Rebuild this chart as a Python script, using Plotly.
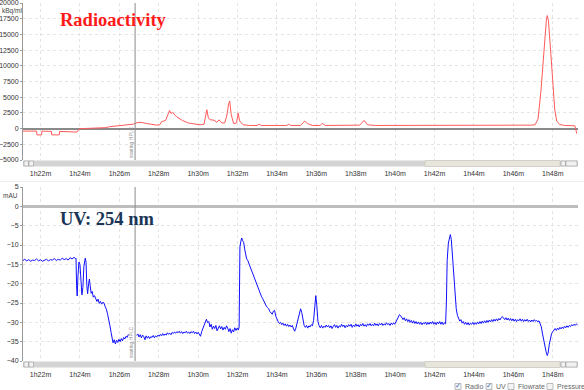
import plotly.graph_objects as go

W, H = 584, 390

# ---------------- data ----------------
tick_minutes = [82, 84, 86, 88, 90, 92, 94, 96, 98, 100, 102, 104, 106, 108]
tick_labels = ["1h22m", "1h24m", "1h26m", "1h28m", "1h30m", "1h32m", "1h34m",
               "1h36m", "1h38m", "1h40m", "1h42m", "1h44m", "1h46m", "1h48m"]
radio_ticks = [20000, 17500, 15000, 12500, 10000, 7500, 5000, 2500, 0, -2500, -5000]
uv_ticks = [5, 0, -5, -10, -15, -20, -25, -30, -35, -40]
hplc_start = 86.8

radio_t = [81.11, 81.80, 81.82, 82.05, 82.07, 82.55, 82.57, 82.95, 82.97, 83.50, 83.85, 83.95,
           84.10, 84.50, 85.00, 85.30, 85.50, 86.00, 86.40, 86.70, 86.90, 87.10, 87.40, 87.90,
           88.05, 88.15, 88.35, 88.50, 88.55, 88.62, 88.70, 88.90, 89.20, 89.50, 89.80, 90.10,
           90.30, 90.38, 90.44, 90.52, 90.60, 90.80, 90.95, 91.06, 91.20, 91.35, 91.45, 91.55,
           91.60, 91.68, 91.80, 91.95, 92.03, 92.10, 92.15, 92.30, 92.60, 93.00, 93.10, 93.20,
           94.00, 94.50, 94.60, 94.70, 95.20, 95.40, 95.55, 95.80, 96.20, 96.30, 96.45, 97.50,
           98.20, 98.42, 98.60, 99.00, 102.0, 105.0, 106.90, 107.10, 107.25, 107.40, 107.55,
           107.68, 107.72, 107.78, 107.90, 108.00, 108.10, 108.20, 108.35, 108.60, 109.00,
           109.12, 109.22]
radio_v = [-400, -400, -1000, -1000, -400, -450, -1000, -1000, -450, -500, -550, -100,
           0, 50, 100, 150, 300, 450, 500, 700, 950, 1000, 800, 550,
           600, 1100, 1300, 2300, 2900, 2400, 2600, 1900, 1300, 900, 700, 600,
           700, 2000, 3000, 1700, 1400, 1350, 1000, 1400, 900, 900, 2000, 4000,
           4400, 2200, 800, 900, 2500, 1300, 1000, 600, 500, 500, 700, 500,
           500, 500, 700, 500, 500, 1200, 800, 500, 500, 850, 500, 500,
           550, 1300, 600, 500, 480, 500, 550, 600, 1500, 6000, 13000,
           17500, 18000, 17200, 12000, 7000, 3000, 1200, 650, 500, 450,
           450, -800]

uv_t = [81.11, 81.2, 81.3, 81.4, 81.5, 81.6, 81.7, 81.8, 81.9, 82.0, 82.1, 82.2, 82.3, 82.4,
        82.5, 82.6, 82.7, 82.8, 82.9, 83.0, 83.1, 83.2, 83.3, 83.4, 83.5, 83.6, 83.7, 83.78,
        83.80, 83.83, 83.86, 83.90, 83.95, 84.00, 84.05, 84.10, 84.15, 84.20, 84.27, 84.31,
        84.35, 84.39, 84.44, 84.48, 84.52, 84.57, 84.62, 84.68, 84.74, 84.80, 84.86, 84.92,
        84.98, 85.04, 85.10, 85.16, 85.22, 85.28, 85.34, 85.40, 85.46, 85.52, 85.58, 85.63,
        85.68, 85.74, 85.80, 85.86, 85.92, 85.98, 86.04, 86.10, 86.16, 86.22, 86.28, 86.34,
        86.40, 86.46, 86.48, 86.88, 86.94, 87.00, 87.06, 87.12, 87.18, 87.24, 87.30, 87.36,
        87.42, 87.48, 87.54, 87.60, 87.66, 87.72, 87.78, 87.84, 87.90, 87.96, 88.02, 88.08,
        88.14, 88.20, 88.26, 88.32, 88.38, 88.44, 88.50, 88.56, 88.62, 88.68, 88.74, 88.80,
        88.86, 88.92, 88.98, 89.04, 89.10, 89.16, 89.22, 89.28, 89.34, 89.40, 89.46, 89.52,
        89.58, 89.64, 89.70, 89.76, 89.82, 89.88, 89.94, 90.00, 90.06, 90.12, 90.18, 90.24,
        90.30, 90.36, 90.42, 90.48, 90.54, 90.60, 90.66, 90.72, 90.78, 90.84, 90.90, 90.96,
        91.02, 91.08, 91.14, 91.20, 91.26, 91.32, 91.38, 91.44, 91.50, 91.56, 91.62, 91.68,
        91.74, 91.80, 91.86, 91.92, 91.98, 92.04, 92.08, 92.10, 92.12, 92.17, 92.21, 92.26,
        92.31, 92.36, 92.41, 92.46, 92.51, 92.56, 92.62, 92.68, 92.74, 92.80, 92.86, 92.92,
        92.98, 93.04, 93.10, 93.16, 93.22, 93.28, 93.34, 93.40, 93.46, 93.52, 93.58, 93.64,
        93.70, 93.76, 93.82, 93.88, 93.94, 94.00, 94.06, 94.12, 94.18, 94.24, 94.30, 94.36,
        94.42, 94.48, 94.54, 94.60, 94.66, 94.72, 94.78, 94.84, 94.90, 94.96, 95.02, 95.08,
        95.14, 95.20, 95.26, 95.32, 95.38, 95.44, 95.50, 95.56, 95.62, 95.68, 95.74, 95.80,
        95.86, 95.92, 95.97, 96.02, 96.08, 96.14, 96.20, 96.26, 96.32, 96.38, 96.44, 96.50,
        96.56, 96.62, 96.68, 96.74, 96.80, 96.86, 96.92, 96.98, 97.04, 97.10, 97.16, 97.22,
        97.28, 97.34, 97.40, 97.46, 97.52, 97.58, 97.64, 97.70, 97.76, 97.82, 97.88, 97.94,
        98.00, 98.06, 98.12, 98.18, 98.24, 98.30, 98.36, 98.42, 98.48, 98.54, 98.60, 98.66,
        98.72, 98.78, 98.84, 98.90, 98.96, 99.02, 99.08, 99.14, 99.20, 99.26, 99.32, 99.38,
        99.44, 99.50, 99.56, 99.62, 99.68, 99.74, 99.80, 99.86, 99.92, 99.98, 100.04, 100.10,
        100.16, 100.22, 100.28, 100.34, 100.40, 100.46, 100.52, 100.58, 100.64, 100.70, 100.76,
        100.82, 100.88, 100.94, 101.00, 101.06, 101.12, 101.18, 101.24, 101.30, 101.36, 101.42,
        101.48, 101.54, 101.60, 101.66, 101.72, 101.78, 101.84, 101.90, 101.96, 102.02, 102.08,
        102.14, 102.20, 102.26, 102.32, 102.38, 102.44, 102.50, 102.56, 102.60, 102.64, 102.70,
        102.76, 102.80, 102.85, 102.90, 102.95, 103.00, 103.05, 103.10, 103.16, 103.22, 103.28,
        103.34, 103.40, 103.46, 103.52, 103.58, 103.64, 103.70, 103.76, 103.82, 103.88, 103.94,
        104.00, 104.06, 104.12, 104.18, 104.24, 104.30, 104.36, 104.42, 104.48, 104.54, 104.60,
        104.66, 104.72, 104.78, 104.84, 104.90, 104.96, 105.02, 105.08, 105.14, 105.20, 105.26,
        105.32, 105.38, 105.44, 105.50, 105.56, 105.62, 105.68, 105.74, 105.80, 105.86, 105.92,
        105.98, 106.04, 106.10, 106.16, 106.22, 106.28, 106.34, 106.40, 106.46, 106.52, 106.58,
        106.64, 106.70, 106.76, 106.82, 106.88, 106.94, 107.00, 107.06, 107.12, 107.18, 107.24,
        107.30, 107.36, 107.42, 107.48, 107.54, 107.60, 107.66, 107.72, 107.76, 107.82, 107.88,
        107.94, 108.00, 108.06, 108.12, 108.18, 108.24, 108.30, 108.36, 108.42, 108.48, 108.54,
        108.60, 108.66, 108.72, 108.78, 108.84, 108.90, 108.96, 109.02, 109.08, 109.14, 109.20,
        109.26]
uv_v = [-14.0, -13.7, -14.1, -13.8, -14.2, -13.9, -14.0, -13.6, -14.1, -13.8, -14.2, -13.9, -13.7, -14.1,
        -13.8, -13.9, -13.5, -14.0, -13.7, -13.9, -13.4, -13.8, -13.5, -13.9, -13.3, -13.6, -13.2, -13.5,
        -13.4, -20.5, -23.2, -18.0, -14.4, -15.0, -19.5, -22.9, -21.0, -15.5, -13.4, -14.5,
        -20.5, -22.6, -20.0, -18.8, -20.5, -22.5, -22.0, -23.5, -23.1, -24.2, -24.6, -24.0,
        -25.1, -24.6, -25.3, -24.8, -25.0, -25.9, -26.6, -27.8, -29.0, -30.8, -32.6, -34.0,
        -35.3, -34.5, -35.6, -34.6, -35.2, -34.4, -35.0, -34.2, -34.8, -33.9, -34.3, -33.6,
        -33.9, -33.1, None, -33.4, -33.0, -33.8, -33.2, -34.0, -33.3, -33.7, -34.5, -33.5,
        -34.1, -33.6, -34.2, -33.7, -33.9, -33.4, -34.0, -33.5, -33.8, -33.3, -33.6, -33.1,
        -33.5, -32.9, -33.4, -33.0, -33.3, -32.7, -33.1, -32.8, -33.2, -32.6, -32.9, -32.5,
        -32.8, -32.4, -32.7, -32.3, -32.8, -32.4, -32.9, -32.5, -32.7, -32.3, -32.8, -32.5,
        -32.9, -32.4, -32.7, -32.3, -32.9, -32.5, -33.0, -32.6, -33.1, -33.6, -32.4, -31.5,
        -30.6, -29.6, -29.2, -30.1, -29.8, -31.2, -30.5, -31.8, -31.0, -31.6, -30.8, -32.2,
        -31.4, -30.9, -31.7, -31.1, -32.0, -31.3, -31.8, -30.9, -31.5, -32.4, -31.6, -32.8,
        -31.9, -32.5, -31.4, -32.1, -31.5, -32.0, -31.2, -21.0, -10.5, -9.0, -8.2, -8.9,
        -9.3, -11.0, -12.8, -13.6, -13.9, -14.6, -15.4, -16.0, -17.2, -17.8, -18.9, -19.7,
        -20.6, -21.3, -22.0, -22.8, -23.4, -23.9, -24.6, -25.0, -25.8, -26.2, -26.5, -27.2,
        -27.5, -27.9, -27.1, -26.9, -28.4, -29.3, -29.8, -30.3, -30.0, -30.6, -30.2, -30.8,
        -30.4, -31.0, -30.5, -31.1, -30.7, -31.2, -30.8, -31.7, -32.3, -31.5, -30.2, -28.5,
        -27.1, -26.5, -27.5, -29.6, -30.8, -31.3, -30.8, -31.5, -30.9, -31.2, -30.6, -30.9,
        -29.5, -26.0, -23.1, -25.5, -29.8, -30.9, -31.4, -30.8, -31.5, -31.0, -31.3, -30.7,
        -31.2, -30.8, -31.4, -30.9, -31.6, -31.0, -30.6, -31.3, -30.8, -31.5, -30.9, -31.2,
        -30.5, -31.1, -30.7, -31.4, -30.8, -31.2, -30.6, -31.0, -30.5, -31.3, -30.7, -31.1,
        -30.4, -31.0, -30.6, -31.2, -30.5, -30.9, -30.3, -31.0, -30.6, -31.1, -30.4, -30.8,
        -30.3, -30.9, -30.5, -30.9, -30.2, -30.8, -30.4, -30.9, -30.3, -30.7, -30.2, -30.8,
        -30.4, -30.7, -30.1, -30.6, -30.3, -30.8, -30.2, -30.6, -30.1, -30.5, -29.9, -29.4,
        -28.6, -28.0, -28.3, -28.9, -29.3, -28.8, -29.6, -29.1, -29.8, -29.3, -30.0,
        -29.5, -30.2, -29.6, -30.3, -29.8, -30.4, -29.9, -30.5, -30.0, -30.6, -30.1,
        -30.4, -29.9, -30.6, -30.0, -30.5, -29.9, -30.4, -29.8, -30.5, -30.0, -30.6,
        -29.9, -30.4, -29.8, -30.5, -29.9, -30.6, -30.1, -30.4, -25.0, -14.0, -9.5,
        -7.4, -7.3, -8.6, -12.0, -15.5, -19.5, -23.6, -26.5, -28.2, -28.8, -29.7,
        -29.3, -30.2, -29.8, -30.5, -30.0, -30.6, -30.1, -30.7, -30.2, -30.5, -30.0,
        -30.6, -30.1, -30.5, -29.9, -30.4, -29.8, -30.3, -29.7, -30.2, -29.6, -30.1,
        -29.5, -30.0, -29.4, -29.9, -29.3, -29.8, -29.2, -29.7, -29.1, -29.6, -29.0,
        -29.4, -28.8, -28.5, -28.9, -29.3, -28.8, -29.4, -28.9, -29.5, -29.0, -29.6,
        -29.1, -29.7, -29.2, -29.8, -29.3, -29.6, -29.1, -29.7, -29.2, -29.8, -29.3,
        -29.7, -29.2, -29.8, -29.4, -29.9, -29.4, -29.8, -29.3, -29.7, -29.5, -29.9,
        -29.6, -30.3, -31.2, -33.0, -34.8, -36.2, -37.6, -38.6, -38.0, -35.8, -34.0,
        -32.9, -32.4, -32.0, -31.6, -32.1, -31.5, -31.9, -31.3, -31.7, -31.2, -31.6,
        -31.0, -31.4, -30.9, -31.3, -30.8, -31.1, -30.6, -30.9, -30.5, -30.8, -30.4,
        -30.7]

legend_items = ["Radio", "UV", "Flowrate", "Pressure"]
legend_checked = [True, True, False, False]

# ---------------- helpers ----------------
def fx(p):
    return p / W

def fy(p):
    return 1 - p / H

X_RANGE = [81.11, 109.28]
TICK_FONT = dict(family="Liberation Sans, Arial, sans-serif", size=7, color="#333333")

fig = go.Figure()
fig.add_trace(go.Scatter(x=radio_t, y=radio_v, mode="lines",
                         line=dict(color="#ff5a5a", width=1), xaxis="x", yaxis="y",
                         hoverinfo="skip"))
fig.add_trace(go.Scatter(x=uv_t, y=uv_v, mode="lines", connectgaps=False,
                         line=dict(color="#1010ff", width=1), xaxis="x2", yaxis="y2",
                         hoverinfo="skip"))

xax = dict(range=X_RANGE, tickmode="array", tickvals=tick_minutes, ticktext=tick_labels,
           showgrid=True, gridcolor="#e4e4e4", griddash="dot", gridwidth=1,
           zeroline=False, showline=False, ticks="outside", ticklen=7,
           tickcolor="rgba(0,0,0,0)", tickfont=TICK_FONT, fixedrange=True, automargin=False)

yax = dict(tickmode="array", tickformat="d", showgrid=True, gridcolor="#e4e4e4",
           griddash="dot", showline=True, linecolor="#9a9a9a", linewidth=1,
           ticks="outside", ticklen=2, tickcolor="#9a9a9a", tickfont=TICK_FONT,
           fixedrange=True, automargin=False, zeroline=True, ticklabeloverflow="allow")

fig.update_layout(
    width=W, height=H, margin=dict(l=0, r=0, t=0, b=0, pad=0),
    paper_bgcolor="white", plot_bgcolor="white", showlegend=False,
    xaxis=dict(xax, domain=[fx(23), fx(578)], anchor="y"),
    yaxis=dict(yax, domain=[fy(160), fy(3)], range=[-5000, 20000], tickvals=radio_ticks,
               zerolinecolor="#8a8a8a", zerolinewidth=1.5, anchor="x"),
    xaxis2=dict(xax, domain=[fx(23), fx(578)], anchor="y2"),
    yaxis2=dict(yax, domain=[fy(361), fy(187)], range=[-40, 5], tickvals=uv_ticks,
                zerolinecolor="#bdbdbd", zerolinewidth=2.5, anchor="x2"),
)

shapes = []
# vertical "starting HPLC" markers
for xr, yr in (("x", "y domain"), ("x2", "y2 domain")):
    shapes.append(dict(type="line", xref=xr, yref=yr, x0=hplc_start, x1=hplc_start, y0=0, y1=1,
                       line=dict(color="#8c8c8c", width=1)))

# scrollbars
for top, bot in ((160.5, 166.5), (361.5, 367.5)):
    shapes.append(dict(type="rect", xref="paper", yref="paper", x0=fx(23), x1=fx(578),
                       y0=fy(bot), y1=fy(top), line=dict(width=0), fillcolor="#d4d4d4"))
    shapes.append(dict(type="rect", xref="paper", yref="paper", x0=fx(425), x1=fx(560),
                       y0=fy(bot), y1=fy(top), line=dict(color="#c4c2b8", width=0.6),
                       fillcolor="#e7e5dc"))
    for bx0, bx1 in ((24, 28.5), (29, 33.5), (561, 565.5), (566, 577)):
        shapes.append(dict(type="rect", xref="paper", yref="paper", x0=fx(bx0), x1=fx(bx1),
                           y0=fy(bot - 0.5), y1=fy(top + 0.5),
                           line=dict(color="#9a9a9a", width=0.6), fillcolor="#f2f2f2"))

# separator between panels
shapes.append(dict(type="line", xref="paper", yref="paper", x0=0, x1=1, y0=fy(181.5), y1=fy(181.5),
                   line=dict(color="#ececec", width=1)))

# legend check boxes
legend_x = [455, 486, 508, 547]
for lx, chk in zip(legend_x, legend_checked):
    shapes.append(dict(type="rect", xref="paper", yref="paper", x0=fx(lx), x1=fx(lx + 6),
                       y0=fy(389.5), y1=fy(383.5), line=dict(color="#a0a0a0", width=0.7),
                       fillcolor="#f4f4f4"))
fig.update_layout(shapes=shapes)

ann = []
ann.append(dict(text="<b>Radioactivity</b>", xref="paper", yref="paper", x=fx(58), y=fy(20),
                xanchor="left", yanchor="middle", showarrow=False,
                font=dict(family="Liberation Serif, serif", size=18.5, color="#ff1a1a")))
ann.append(dict(text="<b>UV: 254 nm</b>", xref="paper", yref="paper", x=fx(58), y=fy(219),
                xanchor="left", yanchor="middle", showarrow=False,
                font=dict(family="Liberation Serif, serif", size=18.5, color="#1c3557")))
ann.append(dict(text="kBq/ml", xref="paper", yref="paper", x=fx(0), y=fy(11),
                xanchor="left", yanchor="middle", showarrow=False,
                font=dict(family="Liberation Sans, Arial, sans-serif", size=6.5, color="#444444")))
ann.append(dict(text="mAU", xref="paper", yref="paper", x=fx(20), y=fy(195),
                xanchor="right", yanchor="middle", showarrow=False,
                font=dict(family="Liberation Sans, Arial, sans-serif", size=6.5, color="#444444")))
for yc in (142, 342):
    ann.append(dict(text="starting HPLC", xref="paper", yref="paper", x=fx(131), y=fy(yc),
                    xanchor="center", yanchor="middle", showarrow=False, textangle=-90,
                    font=dict(family="Liberation Sans, Arial, sans-serif", size=5, color="#909090")))
for lx, chk, name in zip(legend_x, legend_checked, legend_items):
    if chk:
        ann.append(dict(text="✓", xref="paper", yref="paper", x=fx(lx + 3), y=fy(386.3),
                        xanchor="center", yanchor="middle", showarrow=False,
                        font=dict(family="DejaVu Sans", size=7, color="#3a6fc4")))
    ann.append(dict(text=name, xref="paper", yref="paper", x=fx(lx + 7.5), y=fy(386.5),
                    xanchor="left", yanchor="middle", showarrow=False,
                    font=dict(family="Liberation Sans, Arial, sans-serif", size=7, color="#666666")))
fig.update_layout(annotations=ann)

fig.write_html("out.html", config={"displayModeBar": False},
               post_script="document.body.style.margin='0';document.body.style.overflow='hidden';")
